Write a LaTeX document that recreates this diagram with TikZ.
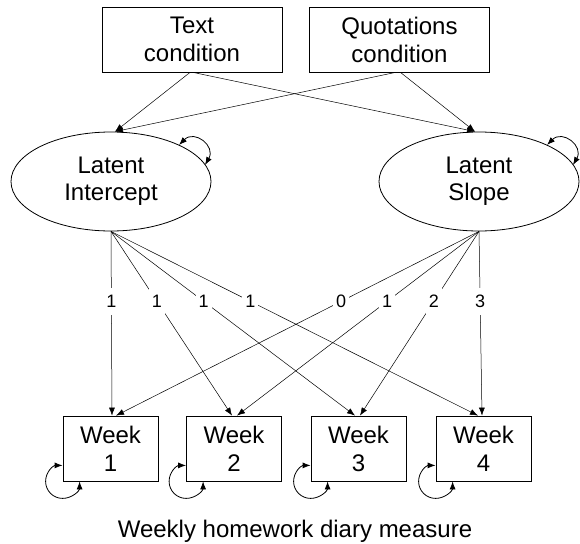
\documentclass[tikz,border=0pt]{standalone}
\usepackage{fontspec}
\setmainfont{Liberation Sans}
\usetikzlibrary{shapes.geometric,arrows.meta,calc}
\begin{document}
\begin{tikzpicture}[x=1pt,y=-1pt,
 box/.style={draw,line width=0.8pt,minimum width=180pt,minimum height=65pt,inner sep=0pt,align=center,font=\fontsize{24}{28}\selectfont},
 wk/.style={draw,line width=0.8pt,minimum width=95pt,minimum height=65pt,inner sep=0pt,align=center,font=\fontsize{24}{28}\selectfont},
 lat/.style={draw,ellipse,line width=0.8pt,minimum width=200pt,minimum height=99pt,inner sep=0pt,align=center,font=\fontsize{24}{27}\selectfont},
 conn/.style={line width=0.5pt,-{Latex[length=8pt,width=6pt]}},
 selfloop/.style={line width=0.8pt,{Latex[length=8pt,width=6pt]}-{Latex[length=8pt,width=6pt]}},
 lbl/.style={fill=white,inner xsep=3pt,inner ysep=7pt,font=\fontsize{18}{20}\selectfont,pos=0.38}
]
\useasboundingbox (0,0) rectangle (580,543);

\node[box] (tc) at (192,39.5) {Text\\condition};
\node[box] (qc) at (399.5,39.5) {Quotations\\condition};

\node[lat] (li) at (111,181.5) {Latent\\Intercept};
\node[lat] (ls) at (479,181.5) {Latent\\Slope};

\node[wk] (w1) at (110.5,448.5) {Week\\1};
\node[wk] (w2) at (234,448.5) {Week\\2};
\node[wk] (w3) at (358.5,448.5) {Week\\3};
\node[wk] (w4) at (483.5,448.5) {Week\\4};

\node[font=\fontsize{24}{28}\selectfont,anchor=base] (cap) at (295,537) {Weekly homework diary measure};

% top arrows
\draw[conn] ($(tc.south)+(-2,0)$) -- ($(li.north)+(4,0)$);
\draw[conn] ($(tc.south)+(1,0)$) -- ($(ls.north)+(-4,0)$);
\draw[conn] ($(qc.south)+(-4,0)$) -- ($(li.north)+(4,0)$);
\draw[conn] ($(qc.south)+(1,0)$) -- ($(ls.north)+(-4,0)$);

% self loops on latents
\draw[selfloop] ($(li.center)+(68,-36.5)$) .. controls +(15.6,-15.6) and +(11,-19) .. ($(li.center)+(94,-16.5)$);
\draw[selfloop] ($(ls.center)+(68,-36.5)$) .. controls +(15.6,-15.6) and +(11,-19) .. ($(ls.center)+(94,-16.5)$);

% intercept loadings
\draw[conn] (li.south) -- node[lbl]{1} ($(w1.north)+(1.5,0)$);
\draw[conn] (li.south) -- node[lbl]{1} ($(w2.north)+(-2,0)$);
\draw[conn] (li.south) -- node[lbl]{1} ($(w3.north)+(-3.5,0)$);
\draw[conn] (li.south) -- node[lbl]{1} ($(w4.north)+(-5.5,0)$);

% slope loadings
\draw[conn] (ls.south) -- node[lbl]{0} ($(w1.north)+(5.5,0)$);
\draw[conn] (ls.south) -- node[lbl]{1} ($(w2.north)+(3,0)$);
\draw[conn] (ls.south) -- node[lbl]{2} ($(w3.north)+(1.5,0)$);
\draw[conn] (ls.south) -- node[lbl]{3} ($(w4.north)+(-1.5,0)$);

% residual loops on weeks
\foreach \n in {w1,w2,w3,w4}{
  \draw[selfloop] ($(\n.south west)+(0,-16)$)
    .. controls +(-9.4,0) and +(0,-9.4) .. ($(\n.south west)+(-17,0)$)
    .. controls +(0,9.4) and +(-9.4,0) .. ($(\n.south west)+(0,17)$)
    .. controls +(9.4,0) and +(0,9.4) .. ($(\n.south west)+(17,0)$);
}
\end{tikzpicture}
\end{document}
